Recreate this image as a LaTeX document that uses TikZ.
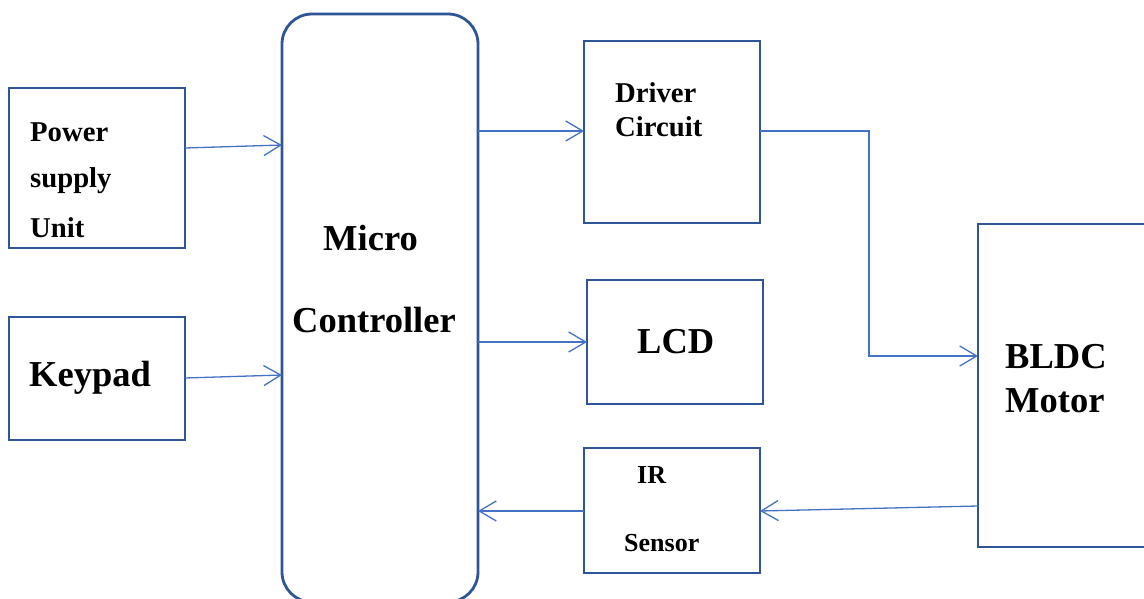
\documentclass[tikz,border=0pt]{standalone}
\usepackage{fontspec}
\setmainfont{Liberation Serif}
\usetikzlibrary{arrows.meta}
\definecolor{boxblue}{HTML}{2F5597}
\definecolor{lineblue}{HTML}{4472C4}
\tikzset{
  blockbox/.style={draw=boxblue, line width=2.8pt, inner sep=0pt, outer sep=0pt, fill=none},
  arr/.style={draw=lineblue, line width=1.3pt, -{Straight Barb[length=17pt,width=20pt,line width=1.3pt]}},
  big/.style={anchor=base west, inner sep=0pt, font=\fontsize{36.5}{40}\selectfont\bfseries},
  mid/.style={anchor=base west, inner sep=0pt, font=\fontsize{28.7}{32}\selectfont\bfseries},
  small/.style={anchor=base west, inner sep=0pt, font=\fontsize{26}{30}\selectfont\bfseries}
}
\begin{document}
\begin{tikzpicture}[x=1pt,y=-1pt]
\useasboundingbox (0,0) rectangle (1144,599);
\clip (0,0) rectangle (1144,599);
% blocks
\node[blockbox, minimum width=176pt, minimum height=160pt] (pw) at (97,168) {};
\node[blockbox, minimum width=176pt, minimum height=123pt] (kp) at (97,378.5) {};
\node[blockbox, minimum width=196pt, minimum height=588pt, rounded corners=30pt] (mc) at (380,308) {};
\node[blockbox, minimum width=176pt, minimum height=182pt] (drv) at (672,132) {};
\node[blockbox, minimum width=176pt, minimum height=124pt] (lcd) at (675,342) {};
\node[blockbox, minimum width=176pt, minimum height=125pt] (ir) at (672,510.5) {};
\node[blockbox, minimum width=182pt, minimum height=323pt] (bl) at (1069,385.5) {};
% texts
\node[mid] (t1) at (30,142) {Power};
\node[mid] (t2) at (30,188) {supply};
\node[mid] (t3) at (30,237) {Unit};
\node[big] (t4) at (29,386) {Keypad};
\node[big] (t5) at (323,250) {Micro};
\node[big] (t6) at (292,332) {Controller};
\node[mid] (t7) at (615,103) {Driver};
\node[mid] (t8) at (615,137) {Circuit};
\node[big] (t9) at (637,353) {LCD};
\node[small] (t10) at (637,483) {IR};
\node[small] (t11) at (624,551) {Sensor};
\node[big] (t12) at (1005,368) {BLDC};
\node[big] (t13) at (1005,412) {Motor};
% connectors
\coordinate (bend) at (869,356);
\draw[arr] (pw.east |- 0,148) -- (mc.west |- 0,145);
\draw[arr] (kp.east |- 0,378) -- (mc.west |- 0,375);
\draw[arr] (mc.east |- 0,131) -- (drv.west |- 0,131);
\draw[arr] (mc.east |- 0,342) -- (lcd.west |- 0,342);
\draw[arr] (drv.east |- 0,131) -| (bend) -- (bl.west |- bend);
\draw[arr] (bl.west |- 0,506) -- (ir.east |- 0,511);
\draw[arr] (ir.west |- 0,511) -- (mc.east |- 0,511);
\end{tikzpicture}
\end{document}
